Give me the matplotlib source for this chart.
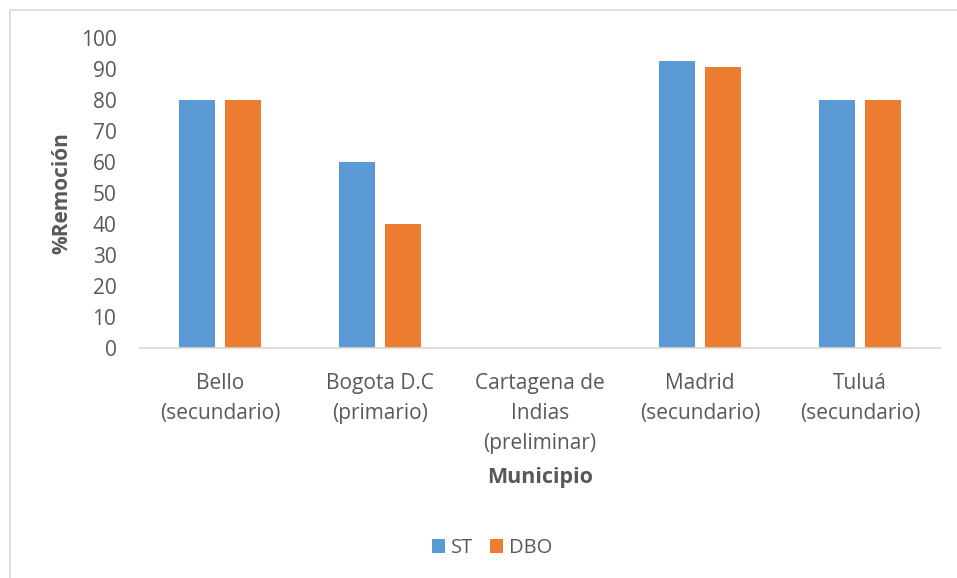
import numpy as np
import matplotlib.pyplot as plt
from matplotlib.patches import Rectangle

municipios = ["Bello\n(secundario)", "Bogota D.C\n(primario)", "Cartagena de\nIndias\n(preliminar)",
              "Madrid\n(secundario)", "Tuluá\n(secundario)"]
st = [80, 60, 0, 92.5, 80]
dbo = [80, 40, 0, 90.5, 80]

plt.rcParams['font.family'] = ['Open Sans', 'DejaVu Sans']
gris = "#595959"

fig = plt.figure(figsize=(9.57, 5.78), dpi=100)
ax = fig.add_axes([140 / 957, 1 - 348 / 578, 800 / 957, 310 / 578])

x = np.arange(len(municipios))
w = 0.225
ax.bar(x - 0.145, st, w, color="#5b9bd5", label="ST")
ax.bar(x + 0.145, dbo, w, color="#ed7d31", label="DBO")

ax.set_xlim(-0.5, len(municipios) - 0.5)
ax.set_ylim(0, 100)
ax.set_yticks(range(0, 101, 10))
ax.set_xticks(x)
ax.set_xticklabels(municipios, fontsize=15, color=gris, linespacing=1.55)
ax.tick_params(axis='y', labelsize=15, colors=gris, length=0, pad=17)
ax.tick_params(axis='x', length=0, pad=18)
for s in ["top", "right", "left"]:
    ax.spines[s].set_visible(False)
ax.spines["bottom"].set_color("#d9d9d9")
ax.spines["bottom"].set_linewidth(1.2)

ax.set_ylabel("%Remoción", fontsize=15, fontweight="bold", color=gris)
ax.yaxis.set_label_coords(-68 / 800, 0.5)
fig.text(540 / 957, 1 - 478 / 578, "Municipio", fontsize=15.5, fontweight="bold",
         color=gris, ha="center", va="center")

fig.legend(loc="center", bbox_to_anchor=(492 / 957, 1 - 548 / 578), ncol=2, frameon=False,
           fontsize=14.5, labelcolor=gris, handlelength=0.65, handleheight=0.65,
           handletextpad=0.3, columnspacing=0.8)

fig.patches.append(Rectangle((10 / 957, -0.1), 1.2, 1 - 10 / 578 + 0.1, transform=fig.transFigure,
                             fill=False, edgecolor="#d9d9d9", linewidth=1.2))

fig.savefig("out.png", dpi=100)
